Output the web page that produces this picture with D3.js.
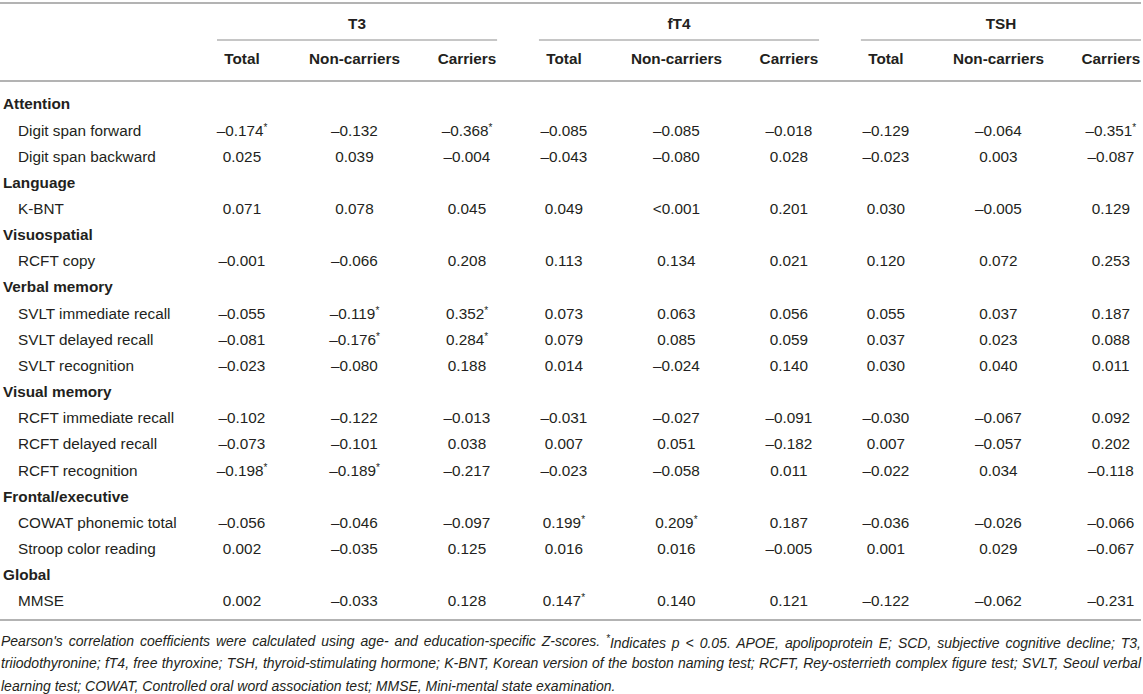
<!DOCTYPE html>
<html>
<head>
<meta charset="utf-8">
<script src="https://cdn.jsdelivr.net/npm/d3@7"></script>
<style>
  body { margin: 0; background: #fff; }
  svg text { font-family: "Liberation Sans", Arial, Helvetica, sans-serif; fill: #231f20; }
</style>
</head>
<body>
<div id="chart"></div>
<script>
// table content
var hormones = ["T3", "fT4", "TSH"];
var subgroups = ["Total", "Non-carriers", "Carriers"];
var domains = ["Attention", "Language", "Visuospatial", "Verbal memory", "Visual memory", "Frontal/executive", "Global"];
var measures = [
  ["Digit span forward", "Digit span backward"],
  ["K-BNT"],
  ["RCFT copy"],
  ["SVLT immediate recall", "SVLT delayed recall", "SVLT recognition"],
  ["RCFT immediate recall", "RCFT delayed recall", "RCFT recognition"],
  ["COWAT phonemic total", "Stroop color reading"],
  ["MMSE"]
];
// one row per measure: T3 (Total, Non, Carriers), fT4 (...), TSH (...). "*" = p < 0.05
var values = [
  ["–0.174*", "–0.132", "–0.368*", "–0.085", "–0.085", "–0.018", "–0.129", "–0.064", "–0.351*"],
  ["0.025", "0.039", "–0.004", "–0.043", "–0.080", "0.028", "–0.023", "0.003", "–0.087"],
  ["0.071", "0.078", "0.045", "0.049", "<0.001", "0.201", "0.030", "–0.005", "0.129"],
  ["–0.001", "–0.066", "0.208", "0.113", "0.134", "0.021", "0.120", "0.072", "0.253"],
  ["–0.055", "–0.119*", "0.352*", "0.073", "0.063", "0.056", "0.055", "0.037", "0.187"],
  ["–0.081", "–0.176*", "0.284*", "0.079", "0.085", "0.059", "0.037", "0.023", "0.088"],
  ["–0.023", "–0.080", "0.188", "0.014", "–0.024", "0.140", "0.030", "0.040", "0.011"],
  ["–0.102", "–0.122", "–0.013", "–0.031", "–0.027", "–0.091", "–0.030", "–0.067", "0.092"],
  ["–0.073", "–0.101", "0.038", "0.007", "0.051", "–0.182", "0.007", "–0.057", "0.202"],
  ["–0.198*", "–0.189*", "–0.217", "–0.023", "–0.058", "0.011", "–0.022", "0.034", "–0.118"],
  ["–0.056", "–0.046", "–0.097", "0.199*", "0.209*", "0.187", "–0.036", "–0.026", "–0.066"],
  ["0.002", "–0.035", "0.125", "0.016", "0.016", "–0.005", "0.001", "0.029", "–0.067"],
  ["0.002", "–0.033", "0.128", "0.147*", "0.140", "0.121", "–0.122", "–0.062", "–0.231"]
];
var footnote = [
  "Pearson's correlation coefficients were calculated using age- and education-specific Z-scores. *Indicates p < 0.05. APOE, apolipoprotein E; SCD, subjective cognitive decline; T3,",
  "triiodothyronine; fT4, free thyroxine; TSH, thyroid-stimulating hormone; K-BNT, Korean version of the boston naming test; RCFT, Rey-osterrieth complex figure test; SVLT, Seoul verbal",
  "learning test; COWAT, Controlled oral word association test; MMSE, Mini-mental state examination."
];

var width = 1143, height = 694;
var fs = 15.3;
var svg = d3.select("#chart").append("svg")
  .attr("width", width).attr("height", height);

// flatten into table rows
var rows = [];
var k = 0;
domains.forEach(function(d, i) {
  rows.push({type: "cat", label: d});
  measures[i].forEach(function(m) {
    rows.push({type: "item", label: m, vals: values[k++]});
  });
});

var x0 = d3.scaleBand().domain(hormones).range([217, 1141]).paddingInner(0.13);
var x1 = d3.scalePoint().domain(subgroups).range([25, 250]);
var y = d3.scalePoint().domain(d3.range(rows.length)).range([104, 601]);

var rule = "#b3b3b3";
function hline(x1_, x2_, yy, w) {
  svg.append("line").attr("x1", x1_).attr("x2", x2_).attr("y1", yy).attr("y2", yy)
    .attr("stroke", rule).attr("stroke-width", w);
}
hline(0, 1141, 3, 2);
hline(0, 1141, 81, 2);
hline(0, 1141, 620, 2);

// group headers
var gh = svg.selectAll("g.grp").data(hormones).enter().append("g")
  .attr("transform", function(d) { return "translate(" + x0(d) + ",0)"; });
gh.append("text")
  .attr("x", x0.bandwidth() / 2).attr("y", 24).attr("dy", "0.35em")
  .attr("text-anchor", "middle").attr("font-weight", "bold").attr("font-size", fs)
  .text(function(d) { return d; });
gh.append("line")
  .attr("x1", 0).attr("x2", x0.bandwidth()).attr("y1", 40).attr("y2", 40)
  .attr("stroke", rule).attr("stroke-width", 1.3);
gh.selectAll("text.sub").data(subgroups).enter().append("text")
  .attr("class", "sub")
  .attr("x", function(d) { return x1(d); }).attr("y", 59).attr("dy", "0.35em")
  .attr("text-anchor", "middle").attr("font-weight", "bold").attr("font-size", fs)
  .text(function(d) { return d; });

// body rows
var cells = [];
hormones.forEach(function(h) { subgroups.forEach(function(s) { cells.push(x0(h) + x1(s)); }); });

var rg = svg.selectAll("g.row").data(rows).enter().append("g")
  .attr("transform", function(d, i) { return "translate(0," + y(i) + ")"; });
rg.append("text")
  .attr("x", function(d) { return d.type === "cat" ? 3 : 18; })
  .attr("dy", "0.35em").attr("font-size", fs)
  .attr("font-weight", function(d) { return d.type === "cat" ? "bold" : "normal"; })
  .text(function(d) { return d.label; });

rg.filter(function(d) { return d.type === "item"; })
  .selectAll("text.val").data(function(d) { return d.vals; }).enter().append("text")
  .attr("class", "val")
  .attr("x", function(d, j) { return cells[j]; })
  .attr("dy", "0.35em").attr("font-size", fs).attr("text-anchor", "middle")
  .each(function(d) {
    var t = d3.select(this);
    var sig = d.indexOf("*") >= 0;
    t.append("tspan").text(d.replace("*", ""));
    if (sig) t.append("tspan").attr("font-size", 10).attr("dy", "-0.5em").text("*");
  });

// footnote, justified lines
footnote.forEach(function(line, i) {
  var t = svg.append("text")
    .attr("x", 1).attr("y", 641 + i * 22.5).attr("dy", "0.35em")
    .attr("font-size", 14).attr("font-style", "italic");
  var parts = line.split("*");
  t.append("tspan").text(parts[0]);
  if (parts.length > 1) {
    t.append("tspan").attr("font-size", 10).attr("dy", "-0.4em").text("*");
    t.append("tspan").attr("dy", "0.4em").text(parts[1]);
  }
  if (i < footnote.length - 1) {
    var len = t.node().getComputedTextLength();
    var spaces = (line.match(/ /g) || []).length;
    t.attr("word-spacing", (1140 - len) / spaces);
  }
});
</script>
</body>
</html>
